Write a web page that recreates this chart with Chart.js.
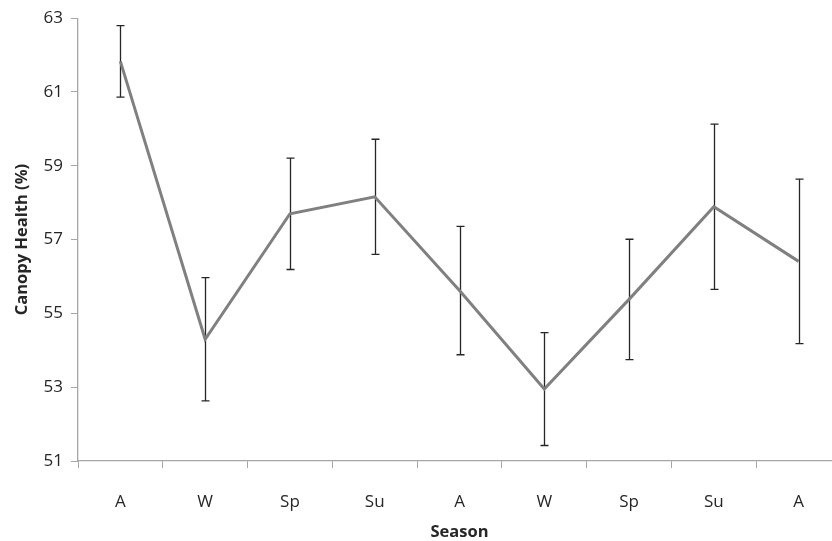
<!DOCTYPE html>
<html>
<head>
<meta charset="utf-8">
<script src="https://cdn.jsdelivr.net/npm/chart.js@4/dist/chart.umd.min.js"></script>
<style>
  html, body { margin: 0; padding: 0; background: #fff; overflow: hidden; }
  #wrap { width: 832px; height: 541px; overflow: hidden; }
</style>
</head>
<body>
<div id="wrap"><canvas id="myChart" width="843" height="541"></canvas></div>
<script>
// data
const seasons = ['A', 'W', 'Sp', 'Su', 'A', 'W', 'Sp', 'Su', 'A'];
const canopyHealth = [61.83, 54.30, 57.70, 58.16, 55.62, 52.95, 55.38, 57.89, 56.41];
const errorSize = [0.97, 1.67, 1.51, 1.56, 1.74, 1.53, 1.63, 2.24, 2.23];
const yTicks = [51, 53, 55, 57, 59, 61, 63];

// error bars with little caps, drawn under the line
const errorBars = {
  id: 'errorBars',
  beforeDatasetsDraw(chart) {
    const ctx = chart.ctx;
    const y = chart.scales.y;
    const meta = chart.getDatasetMeta(0);
    ctx.save();
    ctx.strokeStyle = '#262626';
    ctx.lineWidth = 1.3;
    meta.data.forEach((pt, i) => {
      const x = Math.round(pt.x) + 0.5;
      const top = y.getPixelForValue(canopyHealth[i] + errorSize[i]);
      const bot = y.getPixelForValue(canopyHealth[i] - errorSize[i]);
      ctx.beginPath();
      ctx.moveTo(x, top); ctx.lineTo(x, bot);
      ctx.moveTo(x - 4, top); ctx.lineTo(x + 4, top);
      ctx.moveTo(x - 4, bot); ctx.lineTo(x + 4, bot);
      ctx.stroke();
    });
    ctx.restore();
  }
};

const ctx = document.getElementById('myChart').getContext('2d');
const chart = new Chart(ctx, {
  type: 'line',
  data: {
    labels: seasons,
    datasets: [{
      data: canopyHealth,
      borderColor: '#808080',
      borderWidth: 3,
      pointRadius: 0,
      tension: 0,
      fill: false
    }]
  },
  options: {
    responsive: false,
    animation: false,
    layout: { padding: { top: 15, right: 2, left: 0, bottom: 0 } },
    plugins: { legend: { display: false }, tooltip: { enabled: false } },
    scales: {
      x: {
        offset: true,
        afterFit: s => { s.height = 80; },
        grid: { offset: true, drawOnChartArea: false, tickLength: 7, color: '#a6a6a6', lineWidth: 1 },
        border: { color: '#a6a6a6', width: 1.3 },
        ticks: { padding: 24, color: '#262626', font: { family: 'Open Sans', size: 17 } },
        title: {
          display: true, text: 'Season', color: '#262626',
          font: { family: 'Open Sans', size: 16.5, weight: 'bold' },
          padding: { top: 0, bottom: -1 }
        }
      },
      y: {
        min: 51, max: 63,
        afterFit: s => { s.width = 78; },
        afterBuildTicks: s => { s.ticks = yTicks.map(v => ({ value: v })); },
        grid: { drawOnChartArea: false, tickLength: 7, color: '#a6a6a6', lineWidth: 1 },
        border: { color: '#a6a6a6', width: 1.3 },
        ticks: { padding: 8, color: '#262626', font: { family: 'Open Sans', size: 17 } },
        title: {
          display: true, text: 'Canopy Health (%)', color: '#262626',
          font: { family: 'Open Sans', size: 16.5, weight: 'bold' },
          padding: { top: 12, bottom: 0 }
        }
      }
    }
  },
  plugins: [errorBars]
});
</script>
</body>
</html>
